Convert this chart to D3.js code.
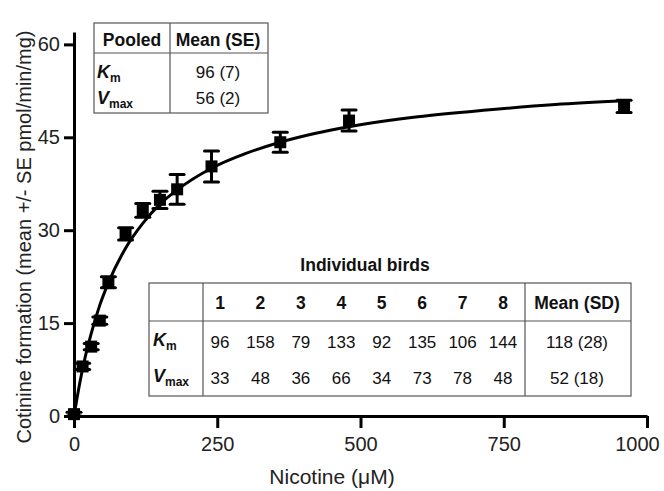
<!DOCTYPE html>
<html lang="en">
<head>
  <meta charset="UTF-8">
  <title>Cotinine formation kinetics</title>
  <script src="https://d3js.org/d3.v7.min.js"></script>
  <style>
    body { margin: 0; background: #fff; }
    svg { font-family: "Liberation Sans", Arial, sans-serif; }
    .axis path, .axis line { stroke: #000; stroke-width: 3; }
    .axis text { font-size: 20px; fill: #222; }
    .tbl { font-size: 17px; fill: #111; }
    .tbl.hd { font-size: 17.5px; font-weight: bold; }
    .grid { stroke: #555; stroke-width: 1.2; fill: none; }
  </style>
</head>
<body>
  <svg width="664" height="491"></svg>

  <script>
    // measured means (+/- SE)
    const nicotine = [0, 15, 30, 45, 60, 90, 120, 150, 180, 240, 360, 480, 960];
    const rate     = [0.3, 8.0, 11.2, 15.4, 21.6, 29.4, 33.2, 34.9, 36.6, 40.3, 44.2, 47.7, 50.0];
    const se       = [0.3, 0.5, 0.5, 0.6, 0.9, 1.0, 1.1, 1.4, 2.4, 2.5, 1.6, 1.7, 1.0];

    // fitted curve
    const fitX = [0, 10, 20, 30, 45, 60, 90, 120, 150, 180, 240, 300, 360, 420, 480, 600, 720, 840, 960];
    const fitY = [0, 5.3, 9.7, 13.3, 17.9, 21.5, 27.1, 31.1, 34.2, 36.5, 40.0, 42.4, 44.2, 45.6, 46.7, 48.3, 49.4, 50.3, 50.9];

    const xTicks = [0, 250, 500, 750, 1000];
    const yTicks = [0, 15, 30, 45, 60];

    // tables
    const pooledHead = ["Pooled", "Mean (SE)"];
    const pooledKm = "96 (7)", pooledVmax = "56 (2)";
    const birds = [1, 2, 3, 4, 5, 6, 7, 8];
    const birdKm   = [96, 158, 79, 133, 92, 135, 106, 144];
    const birdVmax = [33, 48, 36, 66, 34, 73, 78, 48];
    const meanKm = "118 (28)", meanVmax = "52 (18)";

    const svg = d3.select("svg");
    const x = d3.scaleLinear().domain([0, 1000]).range([74, 647]);
    const y = d3.scaleLinear().domain([0, 62]).range([416, 32]);

    // axes
    const xg = svg.append("g").attr("class", "axis")
      .attr("transform", "translate(0,416)")
      .call(d3.axisBottom(x).tickValues(xTicks).tickFormat(d3.format("d"))
        .tickSize(12).tickSizeOuter(0).tickPadding(9));
    // keep "1000" inside the picture
    xg.selectAll(".tick text").filter(d => d === 1000).attr("dx", -10);
    svg.append("g").attr("class", "axis")
      .attr("transform", "translate(74,0)")
      .call(d3.axisLeft(y).tickValues(yTicks).tickSize(10).tickSizeOuter(0).tickPadding(4));

    svg.append("text").attr("x", 332).attr("y", 484)
      .attr("text-anchor", "middle").attr("font-size", 21).attr("fill", "#222")
      .text("Nicotine (μM)");
    svg.append("text")
      .attr("transform", "translate(31,237) rotate(-90)")
      .attr("text-anchor", "middle").attr("font-size", 20).attr("fill", "#222")
      .text("Cotinine formation (mean +/- SE pmol/min/mg)");

    // fit line
    const line = d3.line().x(d => x(d[0])).y(d => y(d[1])).curve(d3.curveMonotoneX);
    svg.append("path")
      .datum(fitX.map((v, i) => [v, fitY[i]]))
      .attr("d", line)
      .attr("fill", "none").attr("stroke", "#000").attr("stroke-width", 3);

    // error bars + markers
    const pts = nicotine.map((v, i) => ({x: v, y: rate[i], e: se[i]}));
    const g = svg.append("g").selectAll("g").data(pts).join("g");
    g.append("line")
      .attr("x1", d => x(d.x)).attr("x2", d => x(d.x))
      .attr("y1", d => y(d.y - d.e)).attr("y2", d => y(d.y + d.e))
      .attr("stroke", "#000").attr("stroke-width", 3);
    [1, -1].forEach(s => {
      g.append("line")
        .attr("x1", d => x(d.x) - 7).attr("x2", d => x(d.x) + 7)
        .attr("y1", d => y(d.y + s * d.e)).attr("y2", d => y(d.y + s * d.e))
        .attr("stroke", "#000").attr("stroke-width", 3).attr("stroke-linecap", "round");
    });
    g.append("rect")
      .attr("x", d => x(d.x) - 6).attr("y", d => y(d.y) - 6)
      .attr("width", 12).attr("height", 12).attr("fill", "#000");

    // helper for K_m / V_max labels
    function paramLabel(sel, px, py, letter, sub) {
      const t = sel.append("text").attr("class", "tbl").attr("x", px).attr("y", py)
        .attr("font-weight", "bold");
      t.append("tspan").attr("font-style", "italic").attr("font-size", 18).text(letter);
      t.append("tspan").attr("font-size", 12).attr("dy", 4).text(sub);
    }

    // pooled table
    const tp = svg.append("g");
    tp.append("rect").attr("class", "grid").attr("x", 94).attr("y", 23).attr("width", 174).attr("height", 90);
    tp.append("line").attr("class", "grid").attr("x1", 94).attr("x2", 268).attr("y1", 53).attr("y2", 53);
    tp.append("line").attr("class", "grid").attr("x1", 170).attr("x2", 170).attr("y1", 23).attr("y2", 113);
    tp.selectAll("text.h").data(pooledHead).join("text")
      .attr("class", "tbl hd h").attr("text-anchor", "middle")
      .attr("x", (d, i) => i === 0 ? 132 : 218).attr("y", 46).text(d => d);
    paramLabel(tp, 97, 78, "K", "m");
    paramLabel(tp, 97, 104, "V", "max");
    tp.append("text").attr("class", "tbl").attr("text-anchor", "middle").attr("x", 218).attr("y", 78).text(pooledKm);
    tp.append("text").attr("class", "tbl").attr("text-anchor", "middle").attr("x", 218).attr("y", 104).text(pooledVmax);

    // individual birds table
    const tb = svg.append("g");
    const bx = d3.scalePoint().domain(birds).range([220, 503]);
    tb.append("text").attr("class", "tbl hd").attr("text-anchor", "middle")
      .attr("x", 365).attr("y", 271).text("Individual birds");
    tb.append("rect").attr("class", "grid").attr("x", 149).attr("y", 283).attr("width", 482).attr("height", 113);
    tb.append("line").attr("class", "grid").attr("x1", 149).attr("x2", 631).attr("y1", 321).attr("y2", 321);
    tb.append("line").attr("class", "grid").attr("x1", 203).attr("x2", 203).attr("y1", 283).attr("y2", 396);
    tb.append("line").attr("class", "grid").attr("x1", 525).attr("x2", 525).attr("y1", 283).attr("y2", 396);
    tb.selectAll("text.b").data(birds).join("text")
      .attr("class", "tbl hd b").attr("text-anchor", "middle")
      .attr("x", d => bx(d)).attr("y", 309).text(d => d);
    tb.append("text").attr("class", "tbl hd").attr("text-anchor", "middle")
      .attr("x", 577).attr("y", 309).text("Mean (SD)");
    tb.selectAll("text.km").data(birdKm).join("text")
      .attr("class", "tbl km").attr("text-anchor", "middle")
      .attr("x", (d, i) => bx(birds[i])).attr("y", 348).text(d => d);
    tb.selectAll("text.vm").data(birdVmax).join("text")
      .attr("class", "tbl vm").attr("text-anchor", "middle")
      .attr("x", (d, i) => bx(birds[i])).attr("y", 384).text(d => d);
    tb.append("text").attr("class", "tbl").attr("text-anchor", "middle").attr("x", 577).attr("y", 348).text(meanKm);
    tb.append("text").attr("class", "tbl").attr("text-anchor", "middle").attr("x", 577).attr("y", 384).text(meanVmax);
    paramLabel(tb, 153, 346, "K", "m");
    paramLabel(tb, 153, 382, "V", "max");
  </script>
</body>
</html>
